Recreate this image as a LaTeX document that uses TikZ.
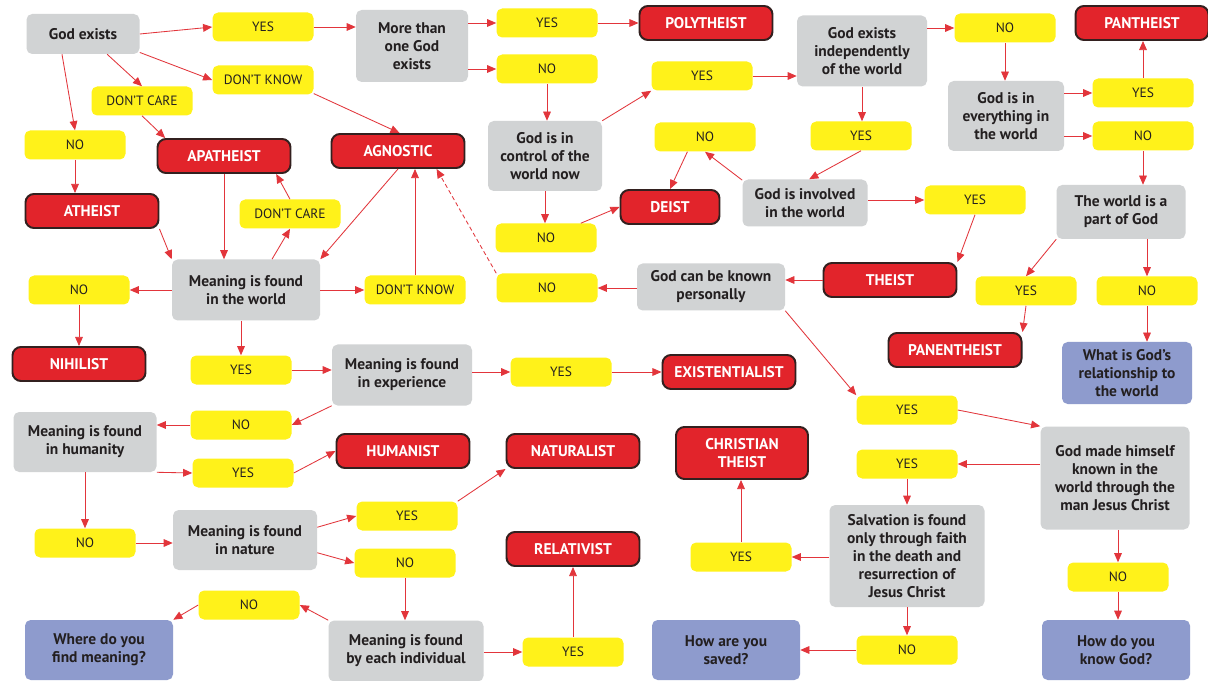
\documentclass[tikz,border=0pt]{standalone}
\usepackage{fontspec}
\setmainfont{PT Sans}
\usepackage{tikz}
\usetikzlibrary{arrows.meta, calc, positioning}
\definecolor{boxGray}{HTML}{D1D3D4}
\definecolor{ansYellow}{HTML}{FFF21A}
\definecolor{resRed}{HTML}{E2242B}
\definecolor{resEdge}{HTML}{33201F}
\definecolor{endBlue}{HTML}{8E9BCD}
\definecolor{lineRed}{HTML}{E2353B}
\definecolor{txtDark}{HTML}{231F20}

\tikzset{
  sz/.style 2 args={minimum width=#1*0.025cm, minimum height=#2*0.025cm},
  qbox/.style={fill=boxGray, rounded corners=4pt, align=center, inner sep=0pt,
    text=txtDark, font=\bfseries\fontsize{11}{12.8}\selectfont},
  endbox/.style={qbox, fill=endBlue},
  ansbox/.style={fill=ansYellow, rounded corners=4pt, inner sep=0pt, sz={101}{29},
    text=txtDark, font=\fontsize{9.6}{10}\selectfont},
  resbox/.style={fill=resRed, draw=resEdge, line width=1.4pt, rounded corners=6pt,
    align=center, inner sep=0pt, sz={133}{34}, text=white,
    font=\bfseries\fontsize{11}{12.5}\selectfont},
  flow/.style={draw=lineRed, line width=0.6pt, -{Triangle[length=6.5pt,width=5.5pt]}}
}

\begin{document}
\begin{tikzpicture}[x=0.025cm, y=-0.025cm]
  \fill[white] (0,0) rectangle (1208,681);
  \useasboundingbox (0,0) rectangle (1208,681);

  % questions
  \node[qbox, sz={113}{40}] (godexists) at (83,34) {God exists};
  \node[qbox, sz={112}{72}] (morethan) at (412,46) {More than\\one God\\exists};
  \node[qbox, sz={114}{70}] (control) at (545,156) {God is in\\control of the\\world now};
  \node[qbox, sz={130}{71}] (indep) at (862,51) {God exists\\independently\\of the world};
  \node[qbox, sz={116}{70}] (everything) at (1006,116) {God is in\\everything in\\the world};
  \node[qbox, sz={125}{47}] (involved) at (805,203) {God is involved\\in the world};
  \node[qbox, sz={129}{54}] (partgod) at (1121,212) {The world is a\\part of God};
  \node[qbox, sz={148}{47}] (knownpers) at (711,287) {God can be known\\personally};
  \node[qbox, sz={148}{61}] (mworld) at (246,290) {Meaning is found\\in the world};
  \node[qbox, sz={140}{61}] (mexp) at (402,375) {Meaning is found\\in experience};
  \node[qbox, sz={143}{60}] (mhuman) at (85,442) {Meaning is found\\in humanity};
  \node[qbox, sz={144}{60}] (mnature) at (245,540) {Meaning is found\\in nature};
  \node[qbox, sz={155}{61}] (mindiv) at (406,651) {Meaning is found\\by each individual};
  \node[qbox, sz={149}{103}] (madehim) at (1115,478) {God made himself\\known in the\\world through the\\man Jesus Christ};
  \node[qbox, sz={155}{102}] (salvation) at (907,556) {Salvation is found\\only through faith\\in the death and\\resurrection of\\Jesus Christ};

  % open questions
  \node[endbox, sz={148}{60}] (wherefind) at (99,650) {Where do you\\find meaning?};
  \node[endbox, sz={148}{60}] (howsaved) at (726,650) {How are you\\saved?};
  \node[endbox, sz={148}{60}] (howknow) at (1116,650) {How do you\\know God?};
  \node[endbox, sz={130}{62}] (relation) at (1127,373) {What is God's\\relationship to\\the world};

  % worldviews
  \node[resbox] (polytheist) at (706,23) {POLYTHEIST};
  \node[resbox] (pantheist) at (1142,23) {PANTHEIST};
  \node[resbox] (apatheist) at (224,156) {APATHEIST};
  \node[resbox] (agnostic) at (398,151) {AGNOSTIC};
  \node[resbox] (atheist) at (92,211) {ATHEIST};
  \node[resbox, sz={99}{34}] (deist) at (670,207) {DEIST};
  \node[resbox] (theist) at (890,280) {THEIST};
  \node[resbox] (panentheist) at (955,350) {PANENTHEIST};
  \node[resbox] (nihilist) at (79,364) {NIHILIST};
  \node[resbox] (existential) at (729,372) {EXISTENTIALIST};
  \node[resbox] (humanist) at (403,451) {HUMANIST};
  \node[resbox] (naturalist) at (573,451) {NATURALIST};
  \node[resbox, sz={132}{52}] (christian) at (742,453) {CHRISTIAN\\THEIST};
  \node[resbox] (relativist) at (573,549) {RELATIVIST};

  % answers
  \node[ansbox] (geYes) at (263,27) {YES};
  \node[ansbox] (geDk) at (263,80) {DON'T KNOW};
  \node[ansbox] (geDc) at (142,101) {DON'T CARE};
  \node[ansbox] (geNo) at (75,145) {NO};
  \node[ansbox] (mtYes) at (547,23) {YES};
  \node[ansbox] (mtNo) at (547,69) {NO};
  \node[ansbox] (ctYes) at (702,76) {YES};
  \node[ansbox] (ctNo) at (546,238) {NO};
  \node[ansbox] (ivNo) at (705,137) {NO};
  \node[ansbox] (indYes) at (861,136) {YES};
  \node[ansbox] (indNo) at (1005,28) {NO};
  \node[ansbox] (evYes) at (1143,93) {YES};
  \node[ansbox] (evNo) at (1143,136) {NO};
  \node[ansbox] (ivYes) at (975,200) {YES};
  \node[ansbox] (mwDc) at (290,214) {DON'T CARE};
  \node[ansbox] (mwDk) at (415,290) {DON'T KNOW};
  \node[ansbox] (kpNo) at (547,288) {NO};
  \node[ansbox] (mwNo) at (79,290) {NO};
  \node[ansbox] (pgYes) at (1026,291) {YES};
  \node[ansbox] (pgNo) at (1147,291) {NO};
  \node[ansbox] (mwYes) at (241,370) {YES};
  \node[ansbox] (meYes) at (561,372) {YES};
  \node[ansbox] (meNo) at (241,425) {NO};
  \node[ansbox] (kpYes) at (907,410) {YES};
  \node[ansbox] (mhYes) at (243,473) {YES};
  \node[ansbox] (mjYes) at (907,464) {YES};
  \node[ansbox] (mhNo) at (85,543) {NO};
  \node[ansbox] (mnYes) at (407,516) {YES};
  \node[ansbox] (mnNo) at (405,563) {NO};
  \node[ansbox] (miNo) at (249,605) {NO};
  \node[ansbox] (svYes) at (741,557) {YES};
  \node[ansbox] (mjNo) at (1118,577) {NO};
  \node[ansbox] (miYes) at (573,652) {YES};
  \node[ansbox] (svNo) at (907,650) {NO};

  % connectors, slanted ones
  \foreach \s/\t in {
    godexists.east/geYes.west,
    godexists.-18/geDk.west,
    godexists.-40/geDc.north,
    godexists.-136/geNo.north,
    geDc.south/apatheist.163,
    geDk.-15/agnostic.85,
    mtYes/polytheist,
    control.north east/ctYes.south west,
    indYes.south/involved.80,
    involved.160/ivNo.south,
    ivNo.220/deist.north,
    ctNo.23/deist.west,
    ivYes.south/theist.north east,
    knownpers.south east/kpYes.north west,
    kpYes.east/madehim.north west,
    partgod.south west/pgYes.north,
    pgYes.south/panentheist.north east,
    atheist.south east/mworld.north west,
    mwDc.north/apatheist.-19,
    agnostic.south/mworld.north east,
    meYes/existential,
    mexp.south west/meNo.east,
    mhuman.south east/mhYes.west,
    mhYes.east/humanist.west,
    mnature.10/mnYes.west,
    mnature.-10/mnNo.west,
    mnYes.north east/naturalist.south west,
    mindiv.north west/miNo.east,
    miNo.west/wherefind.north east}
    \draw[flow] (\s) -- (\t);

  % straight ones
  \draw[flow] (geNo.south) -- (geNo.south |- atheist.north);
  \draw[flow] (geYes.east) -- (geYes.east -| morethan.west);
  \draw[flow] (morethan.east |- mtYes) -- (mtYes.west);
  \draw[flow] (morethan.east |- mtNo) -- (mtNo.west);
  \draw[flow] (mtNo.south) -- (mtNo.south |- control.north);
  \draw[flow] (ctYes.east) -- (ctYes.east -| indep.west);
  \draw[flow] (indep.east |- indNo) -- (indNo.west);
  \draw[flow] (indNo.south) -- (indNo.south |- everything.north);
  \draw[flow] (everything.east |- evYes) -- (evYes.west);
  \draw[flow] (everything.east |- evNo) -- (evNo.west);
  \draw[flow] (evYes.north) -- (evYes.north |- pantheist.south);
  \draw[flow] (evNo.south) -- (evNo.south |- partgod.north);
  \draw[flow] (indep.south) -- (indep.south |- indYes.north);
  \draw[flow] (control.south) -- (control.south |- ctNo.north);
  \draw[flow] (involved.east |- ivYes) -- (ivYes.west);
  \draw[flow] (theist.west) -- (theist.west -| knownpers.east);
  \draw[flow] (knownpers.west |- kpNo) -- (kpNo.east);
  \draw[flow] (madehim.west |- mjYes) -- (mjYes.east);
  \draw[flow] (mjYes.south) -- (mjYes.south |- salvation.north);
  \draw[flow] (salvation.west |- svYes) -- (svYes.east);
  \draw[flow] (svYes.north) -- (svYes.north |- christian.south);
  \draw[flow] (salvation.south) -- (salvation.south |- svNo.north);
  \draw[flow] (svNo.west) -- (svNo.west -| howsaved.east);
  \draw[flow] (mjNo.north |- madehim.south) -- (mjNo.north);
  \draw[flow] (mjNo.south) -- (mjNo.south |- howknow.north);
  \draw[flow] (pgNo.north |- partgod.south) -- (pgNo.north);
  \draw[flow] (pgNo.south) -- (pgNo.south |- relation.north);
  \draw[flow] (apatheist.south) -- (apatheist.south |- mworld.north);
  \draw[flow] ($(mworld.north)+(26,0)$) -- (mwDc.south);
  \draw[flow] (mworld.east |- mwDk) -- (mwDk.west);
  \draw[flow] (mwDk.north) -- (mwDk.north |- agnostic.south);
  \draw[flow] (mworld.west |- mwNo) -- (mwNo.east);
  \draw[flow] (mwNo.south) -- (mwNo.south |- nihilist.north);
  \draw[flow] (mwYes.north |- mworld.south) -- (mwYes.north);
  \draw[flow] (mwYes.east) -- (mwYes.east -| mexp.west);
  \draw[flow] (mexp.east |- meYes) -- (meYes.west);
  \draw[flow] (meNo.west) -- (meNo.west -| mhuman.east);
  \draw[flow] (mhNo.north |- mhuman.south) -- (mhNo.north);
  \draw[flow] (mhNo.east) -- (mhNo.east -| mnature.west);
  \draw[flow] (mnNo.south) -- (mnNo.south |- mindiv.north);
  \draw[flow] (mindiv.east |- miYes) -- (miYes.west);
  \draw[flow] (miYes.north) -- (miYes.north |- relativist.south);
  \draw[flow, densely dashed] (kpNo.north west) -- (agnostic.-25);
\end{tikzpicture}
\end{document}
